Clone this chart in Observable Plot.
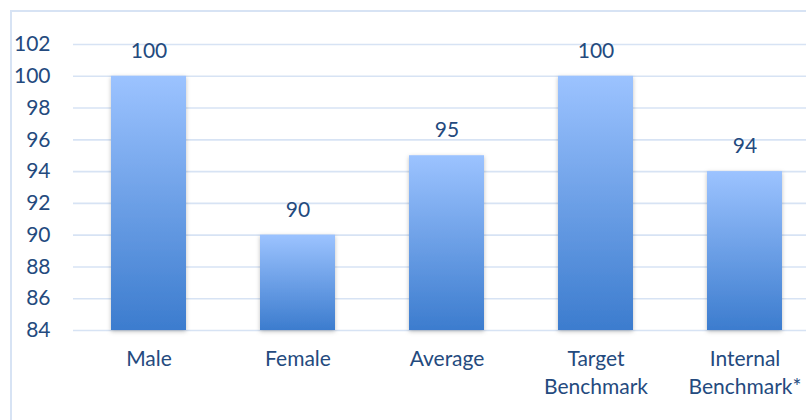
<!DOCTYPE html>
<html>
<head>
<meta charset="utf-8">
<script src="https://cdn.jsdelivr.net/npm/d3@7"></script>
<script src="https://cdn.jsdelivr.net/npm/@observablehq/plot@0.6"></script>
<style>
  html, body { margin: 0; padding: 0; background: #fff; overflow: hidden; }
  #wrap { position: relative; width: 806px; height: 420px; }
  #border { position: absolute; left: 10px; top: 10px; right: -10px; bottom: -10px;
            border-left: 2px solid #D7E3F4; border-top: 2px solid #D7E3F4; pointer-events: none; }
</style>
</head>
<body>
<div id="wrap"><div id="border"></div></div>
<script>
const categories = ["Male", "Female", "Average", "Target\nBenchmark", "Internal\nBenchmark*"];
const values = [100, 90, 95, 100, 94];
const yTicks = [84, 86, 88, 90, 92, 94, 96, 98, 100, 102];

const data = categories.map((c, i) => ({category: c, value: values[i]}));
const textColor = "#244A7E";
const font = "Lato, 'Open Sans', sans-serif";

const defs = () => {
  const d = d3.create("svg:defs");
  const g = d.append("linearGradient").attr("id", "barGrad")
    .attr("x1", 0).attr("y1", 0).attr("x2", 0).attr("y2", 1);
  g.append("stop").attr("offset", "0%").attr("stop-color", "#9CC3FF");
  g.append("stop").attr("offset", "100%").attr("stop-color", "#3C7CCE");
  const f = d.append("filter").attr("id", "shadow").attr("x", "-20%").attr("y", "-20%")
    .attr("width", "140%").attr("height", "140%");
  f.append("feDropShadow").attr("dx", 0).attr("dy", 1.5).attr("stdDeviation", 2)
    .attr("flood-color", "#000").attr("flood-opacity", 0.25);
  return d.node();
};

const chart = Plot.plot({
  width: 806,
  height: 420,
  marginLeft: 73,
  marginRight: 0,
  marginTop: 44,
  marginBottom: 90,
  style: {background: "transparent", fontFamily: font, overflow: "visible"},
  x: {domain: categories, range: [72.6, 820.1], paddingInner: 0.5, paddingOuter: 0.25, label: null},
  y: {domain: [84, 102], range: [330, 44], label: null},
  marks: [
    defs,
    Plot.ruleY(yTicks, {stroke: "#D7E3F4", strokeWidth: 1.6}),
    Plot.barY(data, {x: "category", y1: 84, y2: "value", fill: "url(#barGrad)"}),
    Plot.text(data, {x: "category", y: "value", text: d => String(d.value), dy: -25,
      fill: textColor, fontSize: 21}),
    Plot.axisY(yTicks, {tickSize: 0, tickPadding: 23, fontSize: 21, color: textColor, label: null}),
    Plot.axisX({tickSize: 0, tickPadding: 16, fontSize: 21, color: textColor, lineHeight: 1.33,
      lineAnchor: "top", label: null})
  ]
});
chart.querySelectorAll("g[aria-label='bar'] rect").forEach(r => r.setAttribute("filter", "url(#shadow)"));
document.getElementById("wrap").appendChild(chart);
chart.style.position = "absolute";
chart.style.left = "0";
chart.style.top = "0";
</script>
</body>
</html>
